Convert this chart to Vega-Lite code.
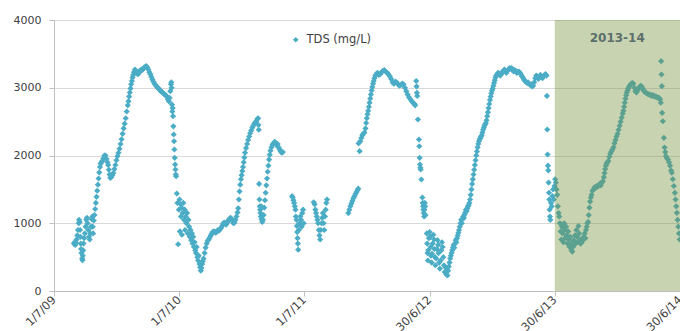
{
"$schema": "https://vega.github.io/schema/vega-lite/v6.json",
"width": 626, "height": 271,
"autosize": {"type": "none"},
"padding": {"left": 54, "top": 20, "right": 0, "bottom": 40},
"config": {"view": {"stroke": null}, "font": "DejaVu Sans"},
"datasets": {"tds": [
{"d":"2009-08-28","v":700},{"d":"2009-08-30","v":720},{"d":"2009-09-01","v":680},{"d":"2009-09-03","v":710},{"d":"2009-09-05","v":760},{"d":"2009-09-07","v":820},{"d":"2009-09-09","v":900},{"d":"2009-09-11","v":1000},{"d":"2009-09-12","v":1050},{"d":"2009-09-14","v":1020},{"d":"2009-09-15","v":900},{"d":"2009-09-16","v":800},{"d":"2009-09-17","v":700},{"d":"2009-09-18","v":620},{"d":"2009-09-19","v":560},{"d":"2009-09-21","v":480},{"d":"2009-09-22","v":455},{"d":"2009-09-23","v":520},{"d":"2009-09-24","v":600},{"d":"2009-09-25","v":700},{"d":"2009-09-27","v":780},{"d":"2009-09-29","v":850},{"d":"2009-10-01","v":950},{"d":"2009-10-03","v":1050},{"d":"2009-10-05","v":1080},{"d":"2009-10-07","v":1000},{"d":"2009-10-09","v":900},{"d":"2009-10-11","v":800},{"d":"2009-10-13","v":760},{"d":"2009-10-15","v":850},{"d":"2009-10-17","v":950},{"d":"2009-10-19","v":1060},{"d":"2009-10-21","v":1100},{"d":"2009-10-22","v":950},{"d":"2009-10-23","v":850},
{"d":"2009-10-25","v":1040},{"d":"2009-10-27","v":1120},{"d":"2009-10-29","v":1210},{"d":"2009-10-31","v":1300},{"d":"2009-11-02","v":1390},{"d":"2009-11-04","v":1480},{"d":"2009-11-06","v":1570},{"d":"2009-11-08","v":1660},{"d":"2009-11-10","v":1750},{"d":"2009-11-12","v":1830},{"d":"2009-11-14","v":1880},{"d":"2009-11-16","v":1900},{"d":"2009-11-19","v":1920},{"d":"2009-11-22","v":1960},{"d":"2009-11-25","v":2000},{"d":"2009-11-28","v":2000},{"d":"2009-12-01","v":1950},{"d":"2009-12-04","v":1900},{"d":"2009-12-06","v":1860},{"d":"2009-12-08","v":1790},{"d":"2009-12-10","v":1720},{"d":"2009-12-12","v":1670},{"d":"2009-12-15","v":1680},{"d":"2009-12-18","v":1710},{"d":"2009-12-21","v":1740},{"d":"2009-12-24","v":1800},{"d":"2009-12-27","v":1860},{"d":"2009-12-30","v":1930},
{"d":"2010-01-02","v":1990},{"d":"2010-01-05","v":2040},{"d":"2010-01-08","v":2100},{"d":"2010-01-11","v":2170},{"d":"2010-01-14","v":2240},{"d":"2010-01-17","v":2320},{"d":"2010-01-20","v":2400},{"d":"2010-01-23","v":2470},{"d":"2010-01-26","v":2550},{"d":"2010-01-29","v":2650},{"d":"2010-02-01","v":2740},{"d":"2010-02-03","v":2800},{"d":"2010-02-05","v":2870},{"d":"2010-02-07","v":2930},{"d":"2010-02-09","v":2990},{"d":"2010-02-11","v":3050},{"d":"2010-02-13","v":3100},{"d":"2010-02-15","v":3150},{"d":"2010-02-17","v":3190},{"d":"2010-02-19","v":3230},{"d":"2010-02-22","v":3270},{"d":"2010-02-25","v":3250},{"d":"2010-02-28","v":3210},{"d":"2010-03-03","v":3200},{"d":"2010-03-06","v":3220},{"d":"2010-03-09","v":3250},{"d":"2010-03-12","v":3270},{"d":"2010-03-15","v":3260},{"d":"2010-03-18","v":3280},{"d":"2010-03-21","v":3300},{"d":"2010-03-24","v":3310},{"d":"2010-03-27","v":3320},{"d":"2010-03-30","v":3300},{"d":"2010-04-02","v":3270},{"d":"2010-04-05","v":3230},{"d":"2010-04-08","v":3200},{"d":"2010-04-11","v":3160},{"d":"2010-04-14","v":3120},{"d":"2010-04-17","v":3090},{"d":"2010-04-20","v":3060},{"d":"2010-04-23","v":3040},{"d":"2010-04-26","v":3020},{"d":"2010-04-29","v":3000},{"d":"2010-05-02","v":2990},{"d":"2010-05-05","v":2970},{"d":"2010-05-08","v":2950},{"d":"2010-05-11","v":2940},{"d":"2010-05-14","v":2930},{"d":"2010-05-17","v":2910},{"d":"2010-05-20","v":2900},{"d":"2010-05-23","v":2890},{"d":"2010-05-26","v":2870},{"d":"2010-05-29","v":2830},{"d":"2010-06-01","v":2800},{"d":"2010-06-03","v":2850},{"d":"2010-06-05","v":2950},{"d":"2010-06-07","v":3050},{"d":"2010-06-08","v":3080},{"d":"2010-06-09","v":3000},{"d":"2010-06-10","v":2750},{"d":"2010-06-11","v":2650},{"d":"2010-06-12","v":2700},{"d":"2010-06-13","v":2580},{"d":"2010-06-14","v":2430},{"d":"2010-06-15","v":2310},{"d":"2010-06-16","v":2210},{"d":"2010-06-17","v":2088},{"d":"2010-06-18","v":1966},{"d":"2010-06-19","v":1867},{"d":"2010-06-20","v":1793},{"d":"2010-06-21","v":1719},{"d":"2010-06-22","v":1694},{"d":"2010-06-24","v":1439},
{"d":"2010-06-26","v":1300},{"d":"2010-06-28","v":690},{"d":"2010-06-30","v":1200},{"d":"2010-07-02","v":1350},{"d":"2010-07-03","v":880},{"d":"2010-07-05","v":1280},{"d":"2010-07-06","v":1100},{"d":"2010-07-08","v":1230},{"d":"2010-07-09","v":830},{"d":"2010-07-11","v":1150},{"d":"2010-07-13","v":1300},{"d":"2010-07-15","v":1050},{"d":"2010-07-17","v":1200},{"d":"2010-07-18","v":900},{"d":"2010-07-20","v":1100},{"d":"2010-07-22","v":1000},{"d":"2010-07-24","v":1150},{"d":"2010-07-26","v":850},{"d":"2010-07-28","v":1050},{"d":"2010-07-30","v":950},{"d":"2010-08-01","v":800},{"d":"2010-08-03","v":900},{"d":"2010-08-05","v":750},{"d":"2010-08-07","v":850},{"d":"2010-08-09","v":700},{"d":"2010-08-11","v":800},{"d":"2010-08-13","v":650},{"d":"2010-08-15","v":720},{"d":"2010-08-17","v":600},{"d":"2010-08-19","v":560},{"d":"2010-08-21","v":650},{"d":"2010-08-23","v":500},{"d":"2010-08-25","v":450},{"d":"2010-08-27","v":520},{"d":"2010-08-29","v":400},{"d":"2010-08-31","v":350},{"d":"2010-09-02","v":300},{"d":"2010-09-04","v":340},{"d":"2010-09-06","v":400},{"d":"2010-09-08","v":440},{"d":"2010-09-10","v":480},{"d":"2010-09-13","v":560},{"d":"2010-09-16","v":640},{"d":"2010-09-19","v":700},{"d":"2010-09-22","v":740},{"d":"2010-09-25","v":760},{"d":"2010-09-28","v":790},{"d":"2010-10-01","v":820},{"d":"2010-10-04","v":850},{"d":"2010-10-07","v":870},{"d":"2010-10-10","v":880},{"d":"2010-10-13","v":870},{"d":"2010-10-16","v":860},{"d":"2010-10-19","v":880},{"d":"2010-10-22","v":900},{"d":"2010-10-25","v":890},{"d":"2010-10-28","v":910},{"d":"2010-10-31","v":930},{"d":"2010-11-03","v":960},{"d":"2010-11-06","v":990},{"d":"2010-11-09","v":1010},{"d":"2010-11-12","v":1000},{"d":"2010-11-15","v":980},{"d":"2010-11-18","v":1010},{"d":"2010-11-21","v":1040},{"d":"2010-11-24","v":1060},{"d":"2010-11-27","v":1080},{"d":"2010-11-30","v":1070},{"d":"2010-12-03","v":1030},{"d":"2010-12-06","v":1000},{"d":"2010-12-09","v":1010},{"d":"2010-12-12","v":1050},{"d":"2010-12-15","v":1100},{"d":"2010-12-18","v":1160},{"d":"2010-12-20","v":1220},{"d":"2010-12-22","v":1350},{"d":"2010-12-24","v":1470},{"d":"2010-12-26","v":1570},{"d":"2010-12-28","v":1650},{"d":"2010-12-30","v":1710},
{"d":"2011-01-01","v":1770},{"d":"2011-01-03","v":1830},{"d":"2011-01-05","v":1900},{"d":"2011-01-07","v":1970},{"d":"2011-01-09","v":2040},{"d":"2011-01-12","v":2110},{"d":"2011-01-15","v":2170},{"d":"2011-01-18","v":2230},{"d":"2011-01-21","v":2280},{"d":"2011-01-24","v":2330},{"d":"2011-01-27","v":2370},{"d":"2011-01-30","v":2410},{"d":"2011-02-02","v":2440},{"d":"2011-02-05","v":2470},{"d":"2011-02-08","v":2490},{"d":"2011-02-11","v":2510},{"d":"2011-02-14","v":2540},{"d":"2011-02-16","v":2550},{"d":"2011-02-17","v":2450},{"d":"2011-02-18","v":2380},{"d":"2011-02-19","v":1580},{"d":"2011-02-20","v":1350},{"d":"2011-02-21","v":1250},{"d":"2011-02-22","v":1200},{"d":"2011-02-23","v":1150},{"d":"2011-02-24","v":1100},{"d":"2011-02-25","v":1250},{"d":"2011-02-26","v":1060},{"d":"2011-02-28","v":1020},{"d":"2011-03-02","v":1050},{"d":"2011-03-04","v":1120},{"d":"2011-03-06","v":1230},{"d":"2011-03-08","v":1340},{"d":"2011-03-10","v":1450},{"d":"2011-03-12","v":1560},{"d":"2011-03-14","v":1660},{"d":"2011-03-16","v":1760},{"d":"2011-03-18","v":1850},{"d":"2011-03-20","v":1940},{"d":"2011-03-22","v":2010},{"d":"2011-03-24","v":2070},{"d":"2011-03-27","v":2120},{"d":"2011-03-30","v":2160},{"d":"2011-04-02","v":2180},{"d":"2011-04-05","v":2200},{"d":"2011-04-08","v":2190},{"d":"2011-04-11","v":2150},{"d":"2011-04-14","v":2170},{"d":"2011-04-17","v":2120},{"d":"2011-04-20","v":2090},{"d":"2011-04-23","v":2060},{"d":"2011-04-26","v":2040},{"d":"2011-04-29","v":2050},
{"d":"2011-05-26","v":1400},{"d":"2011-05-28","v":1380},{"d":"2011-05-30","v":1340},{"d":"2011-06-01","v":1300},{"d":"2011-06-03","v":1250},{"d":"2011-06-05","v":1200},{"d":"2011-06-06","v":1100},{"d":"2011-06-08","v":1050},{"d":"2011-06-09","v":960},{"d":"2011-06-10","v":870},{"d":"2011-06-11","v":780},{"d":"2011-06-12","v":700},{"d":"2011-06-13","v":610},{"d":"2011-06-15","v":900},{"d":"2011-06-17","v":1000},{"d":"2011-06-19","v":1100},{"d":"2011-06-21","v":1050},{"d":"2011-06-23","v":950},{"d":"2011-06-25","v":1150},{"d":"2011-06-27","v":1200},{"d":"2011-06-29","v":1000},
{"d":"2011-07-28","v":1310},{"d":"2011-07-31","v":1280},{"d":"2011-08-02","v":1200},{"d":"2011-08-04","v":1150},{"d":"2011-08-06","v":1100},{"d":"2011-08-08","v":1050},{"d":"2011-08-10","v":1000},{"d":"2011-08-12","v":900},{"d":"2011-08-14","v":820},{"d":"2011-08-16","v":760},{"d":"2011-08-18","v":900},{"d":"2011-08-20","v":1000},{"d":"2011-08-22","v":1080},{"d":"2011-08-24","v":1150},{"d":"2011-08-26","v":1000},{"d":"2011-08-28","v":900},{"d":"2011-08-30","v":1100},{"d":"2011-09-01","v":1200},{"d":"2011-09-03","v":1300},{"d":"2011-09-05","v":1350},
{"d":"2011-11-06","v":1150},{"d":"2011-11-09","v":1200},{"d":"2011-11-12","v":1250},{"d":"2011-11-15","v":1290},{"d":"2011-11-18","v":1330},{"d":"2011-11-21","v":1370},{"d":"2011-11-24","v":1400},{"d":"2011-11-27","v":1430},{"d":"2011-11-30","v":1460},{"d":"2011-12-03","v":1490},{"d":"2011-12-05","v":1510},{"d":"2011-12-06","v":2180},{"d":"2011-12-09","v":2064},{"d":"2011-12-11","v":2210},{"d":"2011-12-14","v":2260},{"d":"2011-12-17","v":2300},{"d":"2011-12-20","v":2320},{"d":"2011-12-23","v":2340},{"d":"2011-12-26","v":2400},{"d":"2011-12-28","v":2480},{"d":"2011-12-30","v":2550},
{"d":"2012-01-01","v":2610},{"d":"2012-01-03","v":2660},{"d":"2012-01-05","v":2720},{"d":"2012-01-07","v":2780},{"d":"2012-01-09","v":2840},{"d":"2012-01-11","v":2900},{"d":"2012-01-13","v":2960},{"d":"2012-01-15","v":3010},{"d":"2012-01-17","v":3060},{"d":"2012-01-19","v":3100},{"d":"2012-01-21","v":3140},{"d":"2012-01-24","v":3180},{"d":"2012-01-27","v":3200},{"d":"2012-01-30","v":3220},{"d":"2012-02-03","v":3190},{"d":"2012-02-07","v":3200},{"d":"2012-02-11","v":3230},{"d":"2012-02-15","v":3250},{"d":"2012-02-19","v":3260},{"d":"2012-02-23","v":3240},{"d":"2012-02-27","v":3220},{"d":"2012-03-02","v":3200},{"d":"2012-03-06","v":3170},{"d":"2012-03-10","v":3130},{"d":"2012-03-14","v":3080},{"d":"2012-03-18","v":3060},{"d":"2012-03-22","v":3090},{"d":"2012-03-26","v":3080},{"d":"2012-03-30","v":3050},{"d":"2012-04-03","v":3030},{"d":"2012-04-07","v":3040},{"d":"2012-04-11","v":3060},{"d":"2012-04-15","v":3050},{"d":"2012-04-19","v":3000},{"d":"2012-04-23","v":2950},{"d":"2012-04-27","v":2900},{"d":"2012-05-01","v":2860},{"d":"2012-05-05","v":2830},{"d":"2012-05-09","v":2800},{"d":"2012-05-13","v":2780},{"d":"2012-05-17","v":2760},{"d":"2012-05-19","v":2740},{"d":"2012-05-22","v":3100},{"d":"2012-05-23","v":3020},{"d":"2012-05-24","v":2925},{"d":"2012-05-25","v":2880},{"d":"2012-05-27","v":2531},{"d":"2012-05-30","v":2236},{"d":"2012-05-31","v":2137},{"d":"2012-06-01","v":1966},{"d":"2012-06-02","v":1867},{"d":"2012-06-03","v":1820},{"d":"2012-06-04","v":1793},{"d":"2012-06-06","v":1646},{"d":"2012-06-09","v":1380},{"d":"2012-06-10","v":1300},{"d":"2012-06-11","v":1250},{"d":"2012-06-12","v":1200},{"d":"2012-06-13","v":1150},{"d":"2012-06-14","v":1100},{"d":"2012-06-15","v":1200},{"d":"2012-06-16","v":1300},{"d":"2012-06-17","v":1250},{"d":"2012-06-18","v":1120},
{"d":"2012-06-22","v":850},{"d":"2012-06-23","v":700},{"d":"2012-06-24","v":560},{"d":"2012-06-25","v":450},{"d":"2012-06-26","v":600},{"d":"2012-06-28","v":780},{"d":"2012-06-30","v":870},{"d":"2012-07-02","v":800},{"d":"2012-07-03","v":650},{"d":"2012-07-04","v":520},{"d":"2012-07-06","v":420},{"d":"2012-07-07","v":550},{"d":"2012-07-09","v":700},{"d":"2012-07-11","v":830},{"d":"2012-07-13","v":760},{"d":"2012-07-14","v":620},{"d":"2012-07-16","v":500},{"d":"2012-07-17","v":380},{"d":"2012-07-19","v":480},{"d":"2012-07-21","v":620},{"d":"2012-07-23","v":750},{"d":"2012-07-25","v":680},{"d":"2012-07-26","v":560},{"d":"2012-07-28","v":420},{"d":"2012-07-30","v":330},{"d":"2012-08-01","v":450},{"d":"2012-08-03","v":600},{"d":"2012-08-05","v":720},{"d":"2012-08-07","v":650},{"d":"2012-08-09","v":500},{"d":"2012-08-11","v":380},{"d":"2012-08-13","v":280},{"d":"2012-08-15","v":350},{"d":"2012-08-17","v":250},{"d":"2012-08-19","v":300},{"d":"2012-08-21","v":230},{"d":"2012-08-23","v":300},{"d":"2012-08-25","v":360},{"d":"2012-08-27","v":420},{"d":"2012-08-29","v":480},{"d":"2012-08-31","v":520},{"d":"2012-09-02","v":560},{"d":"2012-09-04","v":600},{"d":"2012-09-06","v":640},{"d":"2012-09-08","v":680},{"d":"2012-09-10","v":640},{"d":"2012-09-12","v":700},{"d":"2012-09-14","v":750},{"d":"2012-09-16","v":720},{"d":"2012-09-18","v":780},{"d":"2012-09-20","v":820},{"d":"2012-09-22","v":860},{"d":"2012-09-24","v":900},{"d":"2012-09-26","v":950},{"d":"2012-09-28","v":1000},{"d":"2012-09-30","v":1050},{"d":"2012-10-02","v":1000},{"d":"2012-10-04","v":1060},{"d":"2012-10-06","v":1100},{"d":"2012-10-08","v":1080},{"d":"2012-10-10","v":1130},{"d":"2012-10-12","v":1160},{"d":"2012-10-14","v":1200},{"d":"2012-10-16","v":1180},{"d":"2012-10-18","v":1220},{"d":"2012-10-20","v":1250},{"d":"2012-10-22","v":1270},{"d":"2012-10-24","v":1300},{"d":"2012-10-26","v":1350},{"d":"2012-10-28","v":1420},{"d":"2012-10-30","v":1500},{"d":"2012-11-01","v":1580},{"d":"2012-11-03","v":1650},{"d":"2012-11-05","v":1720},{"d":"2012-11-07","v":1790},{"d":"2012-11-09","v":1860},{"d":"2012-11-11","v":1930},{"d":"2012-11-13","v":2000},{"d":"2012-11-15","v":2060},{"d":"2012-11-17","v":2120},{"d":"2012-11-19","v":2170},{"d":"2012-11-21","v":2210},{"d":"2012-11-23","v":2240},{"d":"2012-11-25","v":2260},{"d":"2012-11-27","v":2280},{"d":"2012-11-29","v":2300},{"d":"2012-12-01","v":2340},{"d":"2012-12-03","v":2380},{"d":"2012-12-05","v":2410},{"d":"2012-12-07","v":2440},{"d":"2012-12-09","v":2460},{"d":"2012-12-11","v":2480},{"d":"2012-12-13","v":2520},{"d":"2012-12-15","v":2580},{"d":"2012-12-17","v":2640},{"d":"2012-12-19","v":2700},{"d":"2012-12-21","v":2760},{"d":"2012-12-23","v":2820},{"d":"2012-12-25","v":2870},{"d":"2012-12-27","v":2920},{"d":"2012-12-29","v":2960},{"d":"2012-12-31","v":2990},
{"d":"2013-01-02","v":3030},{"d":"2013-01-04","v":3070},{"d":"2013-01-06","v":3110},{"d":"2013-01-08","v":3150},{"d":"2013-01-10","v":3180},{"d":"2013-01-13","v":3200},{"d":"2013-01-16","v":3220},{"d":"2013-01-19","v":3200},{"d":"2013-01-22","v":3180},{"d":"2013-01-25","v":3200},{"d":"2013-01-28","v":3230},{"d":"2013-01-31","v":3250},{"d":"2013-02-03","v":3270},{"d":"2013-02-06","v":3240},{"d":"2013-02-09","v":3220},{"d":"2013-02-12","v":3250},{"d":"2013-02-15","v":3270},{"d":"2013-02-18","v":3290},{"d":"2013-02-21","v":3280},{"d":"2013-02-24","v":3290},{"d":"2013-02-27","v":3260},{"d":"2013-03-02","v":3240},{"d":"2013-03-05","v":3260},{"d":"2013-03-08","v":3250},{"d":"2013-03-11","v":3220},{"d":"2013-03-14","v":3230},{"d":"2013-03-17","v":3240},{"d":"2013-03-20","v":3220},{"d":"2013-03-23","v":3200},{"d":"2013-03-26","v":3170},{"d":"2013-03-29","v":3150},{"d":"2013-04-01","v":3120},{"d":"2013-04-04","v":3100},{"d":"2013-04-07","v":3090},{"d":"2013-04-10","v":3070},{"d":"2013-04-13","v":3080},{"d":"2013-04-16","v":3060},{"d":"2013-04-19","v":3040},{"d":"2013-04-22","v":3050},{"d":"2013-04-25","v":3020},{"d":"2013-04-28","v":3030},{"d":"2013-05-01","v":3080},{"d":"2013-05-04","v":3140},{"d":"2013-05-07","v":3180},{"d":"2013-05-10","v":3160},{"d":"2013-05-13","v":3130},{"d":"2013-05-16","v":3150},{"d":"2013-05-19","v":3190},{"d":"2013-05-22","v":3160},{"d":"2013-05-25","v":3140},{"d":"2013-05-28","v":3170},{"d":"2013-05-31","v":3190},{"d":"2013-06-03","v":3200},{"d":"2013-06-06","v":3180},{"d":"2013-06-07","v":2880},{"d":"2013-06-08","v":2384},{"d":"2013-06-09","v":2015},{"d":"2013-06-10","v":1850},{"d":"2013-06-11","v":1780},{"d":"2013-06-12","v":1600},{"d":"2013-06-13","v":1450},{"d":"2013-06-14","v":1350},{"d":"2013-06-15","v":1200},{"d":"2013-06-16","v":1100},{"d":"2013-06-17","v":1050},{"d":"2013-06-19","v":1300},{"d":"2013-06-21","v":1250},{"d":"2013-06-23","v":1400},{"d":"2013-06-25","v":1500},{"d":"2013-06-27","v":1350},{"d":"2013-06-29","v":1550},{"d":"2013-07-01","v":1650},{"d":"2013-07-03","v":1600},{"d":"2013-07-05","v":1500},{"d":"2013-07-07","v":1420},{"d":"2013-07-09","v":1250},{"d":"2013-07-11","v":1150},{"d":"2013-07-13","v":1100},{"d":"2013-07-15","v":1000},{"d":"2013-07-17","v":880},{"d":"2013-07-19","v":760},{"d":"2013-07-21","v":950},{"d":"2013-07-23","v":850},{"d":"2013-07-25","v":720},{"d":"2013-07-27","v":1000},{"d":"2013-07-29","v":900},{"d":"2013-07-31","v":780},{"d":"2013-08-02","v":950},{"d":"2013-08-04","v":820},{"d":"2013-08-06","v":700},{"d":"2013-08-08","v":880},{"d":"2013-08-10","v":760},{"d":"2013-08-12","v":650},{"d":"2013-08-14","v":800},{"d":"2013-08-16","v":700},{"d":"2013-08-18","v":600},{"d":"2013-08-20","v":580},{"d":"2013-08-22","v":650},{"d":"2013-08-24","v":750},{"d":"2013-08-26","v":680},{"d":"2013-08-28","v":820},{"d":"2013-08-30","v":720},{"d":"2013-09-01","v":900},{"d":"2013-09-03","v":800},{"d":"2013-09-05","v":720},{"d":"2013-09-07","v":960},{"d":"2013-09-09","v":850},{"d":"2013-09-11","v":750},{"d":"2013-09-13","v":700},{"d":"2013-09-15","v":760},{"d":"2013-09-17","v":720},{"d":"2013-09-19","v":780},{"d":"2013-09-21","v":760},{"d":"2013-09-23","v":800},{"d":"2013-09-25","v":850},{"d":"2013-09-27","v":780},{"d":"2013-09-29","v":900},{"d":"2013-10-01","v":950},{"d":"2013-10-03","v":1000},{"d":"2013-10-05","v":1020},{"d":"2013-10-07","v":1120},{"d":"2013-10-09","v":1230},{"d":"2013-10-11","v":1320},{"d":"2013-10-13","v":1380},{"d":"2013-10-15","v":1420},{"d":"2013-10-18","v":1480},{"d":"2013-10-21","v":1500},{"d":"2013-10-24","v":1530},{"d":"2013-10-27","v":1520},{"d":"2013-10-30","v":1550},{"d":"2013-11-02","v":1540},{"d":"2013-11-05","v":1560},{"d":"2013-11-08","v":1580},{"d":"2013-11-11","v":1560},{"d":"2013-11-14","v":1600},{"d":"2013-11-17","v":1620},{"d":"2013-11-20","v":1680},{"d":"2013-11-22","v":1740},{"d":"2013-11-24","v":1800},{"d":"2013-11-26","v":1850},{"d":"2013-11-28","v":1880},{"d":"2013-11-30","v":1900},{"d":"2013-12-03","v":1920},{"d":"2013-12-06","v":1980},{"d":"2013-12-09","v":2030},{"d":"2013-12-12","v":2060},{"d":"2013-12-15","v":2090},{"d":"2013-12-18","v":2120},{"d":"2013-12-21","v":2180},{"d":"2013-12-24","v":2230},{"d":"2013-12-27","v":2280},{"d":"2013-12-30","v":2320},
{"d":"2014-01-02","v":2380},{"d":"2014-01-05","v":2440},{"d":"2014-01-08","v":2500},{"d":"2014-01-11","v":2560},{"d":"2014-01-14","v":2620},{"d":"2014-01-16","v":2660},{"d":"2014-01-18","v":2720},{"d":"2014-01-20","v":2780},{"d":"2014-01-22","v":2840},{"d":"2014-01-24","v":2890},{"d":"2014-01-26","v":2930},{"d":"2014-01-28","v":2960},{"d":"2014-01-30","v":2990},{"d":"2014-02-02","v":3020},{"d":"2014-02-05","v":3040},{"d":"2014-02-08","v":3060},{"d":"2014-02-11","v":3070},{"d":"2014-02-14","v":3060},{"d":"2014-02-17","v":3000},{"d":"2014-02-20","v":2950},{"d":"2014-02-23","v":2930},{"d":"2014-02-26","v":2960},{"d":"2014-03-01","v":2990},{"d":"2014-03-04","v":3010},{"d":"2014-03-07","v":3030},{"d":"2014-03-10","v":3020},{"d":"2014-03-13","v":2990},{"d":"2014-03-16","v":2960},{"d":"2014-03-19","v":2940},{"d":"2014-03-22","v":2930},{"d":"2014-03-25","v":2920},{"d":"2014-03-28","v":2910},{"d":"2014-03-31","v":2900},{"d":"2014-04-03","v":2900},{"d":"2014-04-06","v":2890},{"d":"2014-04-09","v":2880},{"d":"2014-04-12","v":2890},{"d":"2014-04-15","v":2880},{"d":"2014-04-18","v":2870},{"d":"2014-04-21","v":2870},{"d":"2014-04-24","v":2860},{"d":"2014-04-27","v":2850},{"d":"2014-04-30","v":2850},{"d":"2014-05-03","v":2830},{"d":"2014-05-05","v":2780},{"d":"2014-05-06","v":3392},{"d":"2014-05-07","v":3196},{"d":"2014-05-08","v":3023},{"d":"2014-05-09","v":2630},{"d":"2014-05-11","v":2506},{"d":"2014-05-14","v":2261},{"d":"2014-05-16","v":2118},{"d":"2014-05-18","v":2050},{"d":"2014-05-20","v":1990},{"d":"2014-05-23","v":1960},{"d":"2014-05-26","v":1941},{"d":"2014-05-29","v":1900},{"d":"2014-06-01","v":1850},{"d":"2014-06-04","v":1780},{"d":"2014-06-06","v":1745},{"d":"2014-06-09","v":1650},{"d":"2014-06-12","v":1550},{"d":"2014-06-15","v":1449},{"d":"2014-06-17","v":1350},{"d":"2014-06-19","v":1250},{"d":"2014-06-21","v":1154},{"d":"2014-06-23","v":1050},{"d":"2014-06-25","v":950},{"d":"2014-06-27","v":850},{"d":"2014-06-29","v":760}
]},
"layer": [
{"data": {"name": "tds"},
 "mark": {"type": "point", "shape": "diamond", "filled": true, "size": 38, "opacity": 1},
 "encoding": {
  "x": {"field": "d", "type": "temporal",
   "scale": {"type": "utc", "nice": false, "domain": [{"year": 2009, "month": 7, "date": 1, "utc": true}, {"year": 2014, "month": 6, "date": 30, "utc": true}]},
   "axis": {"title": null, "grid": false, "format": "%-d/%-m/%y",
    "values": [{"year": 2009, "month": 7, "date": 1, "utc": true}, {"year": 2010, "month": 7, "date": 1, "utc": true}, {"year": 2011, "month": 7, "date": 1, "utc": true}, {"year": 2012, "month": 6, "date": 30, "utc": true}, {"year": 2013, "month": 6, "date": 30, "utc": true}, {"year": 2014, "month": 6, "date": 30, "utc": true}],
    "labelAngle": -45, "labelAlign": "right", "labelBaseline": "middle", "labelFont": "DejaVu Sans", "labelFontSize": 11.5, "labelColor": "#404040", "labelPadding": 2, "labelOverlap": false, "labelBound": false, "labelFlush": false,
    "domainColor": "#bfbfbf", "tickColor": "#bfbfbf", "tickSize": 5}},
  "y": {"field": "v", "type": "quantitative",
   "scale": {"domain": [0, 4000], "nice": false},
   "axis": {"title": null, "format": "d", "values": [0, 500, 1000, 1500, 2000, 2500, 3000, 3500, 4000], "grid": true, "gridColor": "#d9d9d9",
    "labelFont": "DejaVu Sans", "labelFontSize": 11, "labelColor": "#404040", "labelPadding": 8,
    "domainColor": "#bfbfbf", "tickColor": "#bfbfbf", "tickSize": 5}},
  "color": {"datum": "TDS (mg/L)", "type": "nominal", "scale": {"range": ["#4bacc6"]},
   "legend": {"orient": "none", "legendX": 236, "legendY": 14, "title": null, "symbolType": "diamond", "symbolSize": 32, "symbolStrokeWidth": 0, "labelFont": "DejaVu Sans", "labelFontSize": 11.5, "labelColor": "#404040", "padding": 0, "labelOffset": 5}}
 }},
{"data": {"values": [{}]},
 "mark": {"type": "rect", "color": "#76923C", "opacity": 0.4},
 "encoding": {
  "x": {"datum": {"year": 2013, "month": 6, "date": 30, "utc": true}, "type": "temporal"},
  "x2": {"datum": {"year": 2014, "month": 6, "date": 30, "utc": true}},
  "y": {"datum": 0, "type": "quantitative"},
  "y2": {"datum": 4000}
 }},
{"data": {"values": [{}]},
 "mark": {"type": "text", "text": "2013-14", "font": "DejaVu Sans", "fontWeight": "bold", "fontSize": 12, "color": "#5b6f6b", "align": "center", "baseline": "middle"},
 "encoding": {
  "x": {"datum": {"year": 2013, "month": 12, "date": 29, "utc": true}, "type": "temporal"},
  "y": {"datum": 3740, "type": "quantitative"}
 }}
]
}
